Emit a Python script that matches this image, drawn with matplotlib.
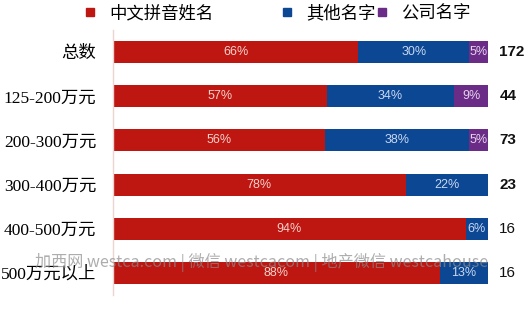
import matplotlib
matplotlib.use("Agg")
import matplotlib.pyplot as plt
from matplotlib.lines import Line2D
import numpy as np

categories = ["总数", "125-200万元", "200-300万元", "300-400万元", "400-500万元", "500万元以上"]
series_names = ["中文拼音姓名", "其他名字", "公司名字"]
pinyin = [66, 57, 56, 78, 94, 88]
other = [30, 34, 38, 22, 6, 13]
company = [5, 9, 5, 0, 0, 0]
counts = [172, 44, 73, 23, 16, 16]
count_weights = ["bold", "bold", "bold", "semibold", "normal", "normal"]
watermark = "加西网 westca.com | 微信 westcacom | 地产微信 westcahouse"

colors = ["#BE1611", "#0C4794", "#6A2C86"]
label_colors = ["#F6D2CC", "#C9D8F0", "#E6D3EE"]

plt.rcParams['font.family'] = ['Liberation Sans', 'Noto Sans CJK SC', 'DejaVu Sans']

fig = plt.figure(figsize=(5.30, 3.35), dpi=100)
ax = fig.add_axes([113/530, 40/335, 375/530, 265/335])

vals = np.array([pinyin, other, company], dtype=float)
totals = vals.sum(axis=0)
frac = vals / totals
y = np.arange(len(categories))
left = np.zeros(len(categories))
for i in range(3):
    ax.barh(y, frac[i], left=left, height=0.5, color=colors[i], linewidth=0)
    for j in range(len(categories)):
        v = vals[i, j]
        if v > 0:
            ax.text(left[j] + frac[i, j] / 2, y[j], f"{int(v)}%", ha="center", va="center",
                    color=label_colors[i], fontsize=9, family=['Liberation Sans', 'DejaVu Sans'])
    left = left + frac[i]

for j in range(len(categories)):
    ax.text(1.03, y[j], str(counts[j]), ha="left", va="center", fontsize=11,
            fontweight=count_weights[j], color="#111111", family=['Liberation Sans', 'DejaVu Sans'])

ax.set_xlim(0, 1)
ax.set_ylim(5.5, -0.5)
ax.set_yticks(y)
ax.set_yticklabels(categories, family=['Liberation Serif', 'Noto Sans CJK SC'], fontsize=12.5)
ax.tick_params(axis="y", length=0, pad=12)
ax.set_xticks([])
for s in ["top", "right", "bottom"]:
    ax.spines[s].set_visible(False)
ax.spines["left"].set_color("#EBD6CF")
ax.spines["left"].set_linewidth(1)

# legend entries
legend_x = [66/530, 263/530, 358/530]
for i in range(3):
    h = Line2D([], [], marker="s", linestyle="none", markersize=6, color=colors[i])
    fig.legend([h], [series_names[i]], loc="center left", bbox_to_anchor=(legend_x[i], 1 - 13/335),
               frameon=False, handletextpad=0.6, handlelength=1.0,
               prop={'family': ['Noto Sans CJK SC'], 'size': 12.5})

fig.text(262/530, 1 - 262/335, watermark, ha="center", va="center", fontsize=11.6,
         color="#8A8A8A", alpha=0.7, family=['Noto Sans CJK SC', 'DejaVu Sans'])

fig.savefig("out.png", dpi=100)
